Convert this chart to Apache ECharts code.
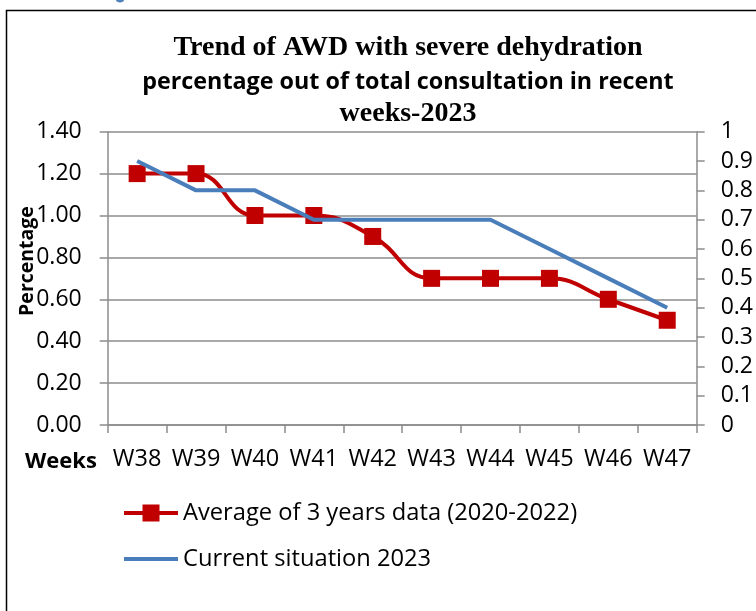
<!DOCTYPE html>
<html><head><meta charset="utf-8">
<script src="https://cdn.jsdelivr.net/npm/echarts@6/dist/echarts.min.js"></script>
<style>html,body{margin:0;padding:0;background:#fff}#c{width:756px;height:611px}</style>
</head><body><div id="c"></div>
<script>
const weeks = ['W38','W39','W40','W41','W42','W43','W44','W45','W46','W47'];
const avg3Years = [1.20,1.20,1.00,1.00,0.90,0.70,0.70,0.70,0.60,0.50];
const current2023 = [0.9,0.8,0.8,0.7,0.7,0.7,0.7,0.6,0.5,0.4];
const leftTickLabels = ['0.00','0.20','0.40','0.60','0.80','1.00','1.20','1.40'];
const rightTickLabels = ['0','0.1','0.2','0.3','0.4','0.5','0.6','0.7','0.8','0.9','1'];
const seriesNames = ['Average of 3 years data (2020-2022)','Current situation 2023'];
const titleLines = ['Trend of AWD with severe dehydration','percentage out of total consultation in recent','weeks-2023'];

const SANS = "'Open Sans', 'Noto Sans', sans-serif";
const SERIF = "'Liberation Serif', 'Times New Roman', serif";
const GRID = '#8c8c8c';
const RED = '#c00000';
const BLUE = '#4a7ebb';

const chart = echarts.init(document.getElementById('c'), null, {renderer:'canvas'});
chart.setOption({
  backgroundColor:'#fff',
  animation:false,
  graphic:[
    {type:'rect', shape:{x:6.5,y:10.5,width:780,height:640}, style:{fill:'none', stroke:'#000', lineWidth:1.5}, silent:true},
    {type:'ellipse', shape:{cx:120,cy:0,rx:4,ry:2.5}, style:{fill:'#4f81bd'}, silent:true},
    {type:'text', x:408, y:48, style:{text:titleLines[0], font:"bold 28px "+SERIF, fill:'#000', align:'center', verticalAlign:'middle'}},
    {type:'text', x:408, y:82, style:{text:titleLines[1], font:"bold 23.3px "+SANS, fill:'#000', align:'center', verticalAlign:'middle'}},
    {type:'text', x:408, y:114, style:{text:titleLines[2], font:"bold 28px "+SERIF, fill:'#000', align:'center', verticalAlign:'middle'}},
    {type:'text', x:27, y:261, rotation:Math.PI/2, style:{text:'Percentage', font:"bold 19.5px "+SANS, fill:'#000', align:'center', verticalAlign:'middle'}},
    {type:'text', x:61, y:462, style:{text:'Weeks', font:"bold 22px "+SANS, fill:'#000', align:'center', verticalAlign:'middle'}}
  ],
  grid:{left:107.7, right:53.3, top:131.7, bottom:186, containLabel:false},
  legend:{
    orient:'vertical', left:124, top:500, padding:0, itemWidth:54, itemHeight:17, itemGap:20,
    symbolKeepAspect:true,
    textStyle:{fontFamily:SANS, fontSize:23.7, color:'#000', lineHeight:26},
    data:[
      {name:seriesNames[0], icon:'path://M0,6.5h54v4h-54z M18.5,0h17v17h-17z', itemStyle:{color:RED}},
      {name:seriesNames[1], icon:'path://M0,0h54v4h-54z', itemStyle:{color:BLUE}}
    ]
  },
  xAxis:{
    type:'category', data:weeks, boundaryGap:true,
    axisLine:{lineStyle:{color:GRID, width:1.5}},
    axisTick:{show:true, length:8, lineStyle:{color:GRID, width:1.5}},
    axisLabel:{color:'#000', fontFamily:SANS, fontSize:23.5, margin:22, interval:0}
  },
  yAxis:[
    {type:'value', min:0, max:1.4, interval:0.2, position:'left',
     axisLine:{show:true, lineStyle:{color:GRID, width:1.5}},
     axisTick:{show:true, length:8, lineStyle:{color:GRID, width:1.5}},
     splitLine:{show:true, lineStyle:{color:GRID, width:1.5}},
     axisLabel:{color:'#000', fontFamily:SANS, fontSize:23, margin:26,
       formatter:(v,i)=>leftTickLabels[i]}},
    {type:'value', min:0, max:1, interval:0.1, position:'right',
     axisLine:{show:true, lineStyle:{color:GRID, width:1.5}},
     axisTick:{show:true, length:8, lineStyle:{color:GRID, width:1.5}},
     splitLine:{show:false},
     axisLabel:{color:'#000', fontFamily:SANS, fontSize:23, margin:24,
       formatter:(v,i)=>rightTickLabels[i]}}
  ],
  series:[
    {name:seriesNames[0], type:'line', yAxisIndex:0, data:avg3Years, smooth:0.45,
     symbol:'rect', symbolSize:17, showSymbol:true,
     itemStyle:{color:RED}, lineStyle:{color:RED, width:4}, z:2},
    {name:seriesNames[1], type:'line', yAxisIndex:1, data:current2023, smooth:false,
     symbol:'none', showSymbol:false,
     itemStyle:{color:BLUE}, lineStyle:{color:BLUE, width:4}, z:3}
  ]
});
</script></body></html>
